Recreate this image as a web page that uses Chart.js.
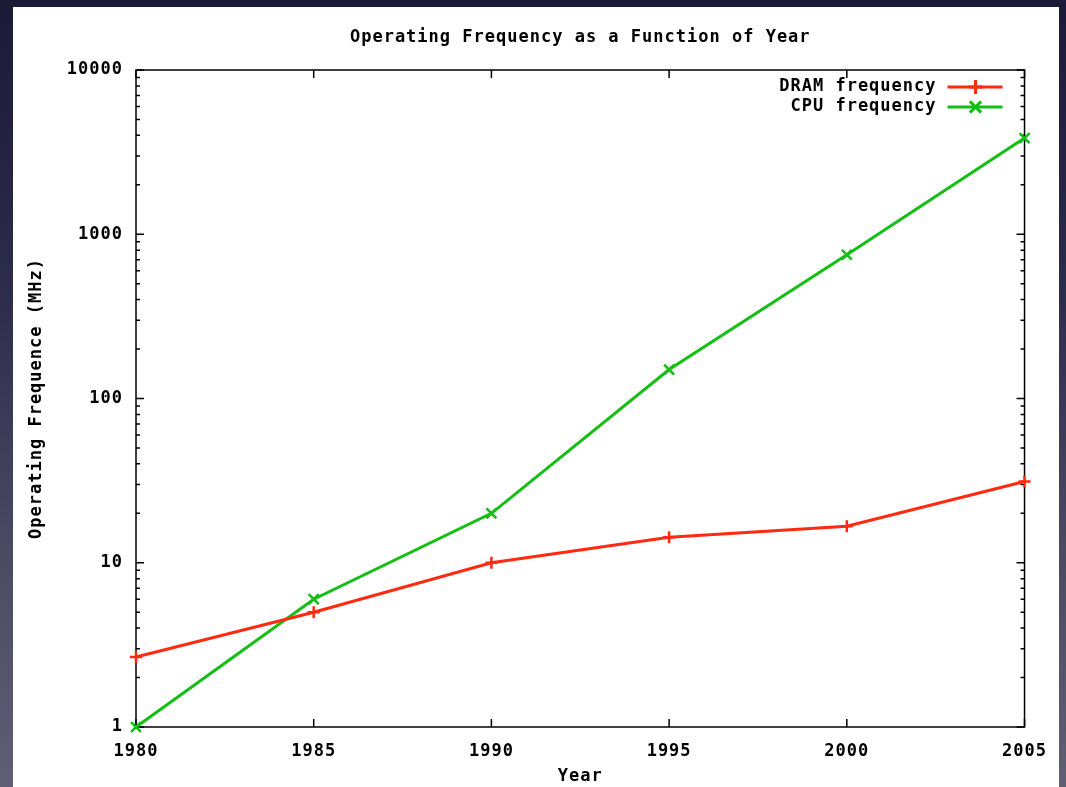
<!DOCTYPE html>
<html>
<head>
<meta charset="utf-8">
<script src="https://cdn.jsdelivr.net/npm/chart.js@4"></script>
<style>
  html, body { margin: 0; padding: 0; }
  body {
    width: 1066px; height: 787px; overflow: hidden; position: relative;
    background: linear-gradient(to bottom, #1b1a37 0%, #2b2b4a 35%, #4a4a63 70%, #5f5e75 100%);
  }
  #panel {
    position: absolute; left: 13px; top: 7px; width: 1046px; height: 780px; background: #fff;
  }
</style>
</head>
<body>
<div id="panel"><canvas id="myChart" width="1046" height="780"></canvas></div>
<script>
// data
var years = [1980, 1985, 1990, 1995, 2000, 2005];
var dramFreq = [2.67, 5, 10, 14.3, 16.7, 31.25];
var cpuFreq = [1, 6, 20, 150, 750, 3850];
var yTicks = [1, 10, 100, 1000, 10000];
var xTicks = [1980, 1985, 1990, 1995, 2000, 2005];
var chartTitle = 'Operating Frequency as a Function of Year';

var FONT = { family: '"DejaVu Sans Mono", monospace', size: 17, weight: 'bold' };
var RED = '#ff2a10';
var GREEN = '#12bf12';

function mark(ctx, style, cx, cy, r) {
  ctx.beginPath();
  if (style === 'cross') {
    ctx.moveTo(cx - r, cy); ctx.lineTo(cx + r, cy);
    ctx.moveTo(cx, cy - r); ctx.lineTo(cx, cy + r);
  } else {
    var d = r * 0.8;
    ctx.moveTo(cx - d, cy - d); ctx.lineTo(cx + d, cy + d);
    ctx.moveTo(cx - d, cy + d); ctx.lineTo(cx + d, cy - d);
  }
  ctx.stroke();
}

// gnuplot style box with inward ticks, mirrored on top and right
var gnuplotFrame = {
  id: 'gnuplotFrame',
  beforeDraw: function(chart) {
    // gnuplot's bitmap font is wider than DejaVu Mono
    chart.ctx.letterSpacing = '1px';
  },
  beforeDatasetsDraw: function(chart) {
    var ctx = chart.ctx, a = chart.chartArea, x = chart.scales.x, y = chart.scales.y;
    ctx.save();
    ctx.strokeStyle = '#000';
    ctx.lineWidth = 1.5;
    ctx.strokeRect(a.left, a.top, a.right - a.left, a.bottom - a.top);
    ctx.beginPath();
    xTicks.forEach(function(v) {
      var px = x.getPixelForValue(v);
      ctx.moveTo(px, a.bottom); ctx.lineTo(px, a.bottom - 8);
      ctx.moveTo(px, a.top); ctx.lineTo(px, a.top + 8);
    });
    for (var d = 1; d <= 10000; d *= 10) {
      for (var m = 1; m <= 9; m++) {
        var v = d * m;
        if (v > 10000) break;
        var len = m === 1 ? 8 : 4;
        var py = y.getPixelForValue(v);
        ctx.moveTo(a.left, py); ctx.lineTo(a.left + len, py);
        ctx.moveTo(a.right, py); ctx.lineTo(a.right - len, py);
      }
    }
    ctx.stroke();
    // title centred over the plot box
    ctx.font = FONT.weight + ' ' + FONT.size + 'px ' + FONT.family;
    ctx.fillStyle = '#000';
    ctx.textAlign = 'center';
    ctx.textBaseline = 'middle';
    ctx.fillText(chartTitle, (a.left + a.right) / 2, a.top - 32);
    ctx.restore();
  },
  afterDatasetsDraw: function(chart) {
    var ctx = chart.ctx, a = chart.chartArea;
    ctx.save();
    ctx.font = FONT.weight + ' ' + FONT.size + 'px ' + FONT.family;
    ctx.textAlign = 'right';
    ctx.textBaseline = 'middle';
    chart.data.datasets.forEach(function(ds, i) {
      var yy = a.top + 17 + i * 20;
      ctx.fillStyle = '#000';
      ctx.fillText(ds.label, a.right - 88, yy);
      ctx.strokeStyle = ds.borderColor;
      ctx.lineWidth = 3;
      ctx.beginPath();
      ctx.moveTo(a.right - 77, yy); ctx.lineTo(a.right - 22, yy);
      ctx.stroke();
      mark(ctx, ds.pointStyle, a.right - 49, yy, 7);
    });
    ctx.restore();
  }
};

var ctx = document.getElementById('myChart').getContext('2d');
var chart = new Chart(ctx, {
  type: 'line',
  data: {
    datasets: [{
      label: 'DRAM frequency',
      data: years.map(function(yr, i) { return { x: yr, y: dramFreq[i] }; }),
      borderColor: RED,
      backgroundColor: RED,
      borderWidth: 3,
      pointStyle: 'cross',
      pointRadius: 6,
      pointBorderWidth: 2.5,
      clip: false
    }, {
      label: 'CPU frequency',
      data: years.map(function(yr, i) { return { x: yr, y: cpuFreq[i] }; }),
      borderColor: GREEN,
      backgroundColor: GREEN,
      borderWidth: 3,
      pointStyle: 'crossRot',
      pointRadius: 7,
      pointBorderWidth: 2.5,
      clip: false
    }]
  },
  options: {
    responsive: false,
    animation: false,
    layout: { padding: { left: 0, right: 33, top: 63, bottom: 0 } },
    plugins: {
      legend: { display: false },
      tooltip: { enabled: false },
      title: { display: false }
    },
    scales: {
      x: {
        type: 'linear',
        min: 1980,
        max: 2005,
        grid: { display: false, drawTicks: false },
        border: { display: false },
        afterBuildTicks: function(s) { s.ticks = xTicks.map(function(v) { return { value: v }; }); },
        afterFit: function(s) { s.height = 60; },
        ticks: {
          color: '#000', font: FONT, padding: 14, maxRotation: 0,
          callback: function(v) { return String(v); }
        },
        title: { display: true, text: 'Year', color: '#000', font: FONT, padding: { top: 6, bottom: 0 } }
      },
      y: {
        type: 'logarithmic',
        min: 1,
        max: 10000,
        grid: { display: false, drawTicks: false },
        border: { display: false },
        afterBuildTicks: function(s) { s.ticks = yTicks.map(function(v) { return { value: v }; }); },
        afterFit: function(s) { s.width = 123; },
        ticks: {
          color: '#000', font: FONT, padding: 13,
          callback: function(v) { return String(v); }
        },
        title: { display: true, text: 'Operating Frequence (MHz)', color: '#000', font: FONT, padding: { top: 13, bottom: 0 } }
      }
    }
  },
  plugins: [gnuplotFrame]
});
</script>
</body>
</html>
